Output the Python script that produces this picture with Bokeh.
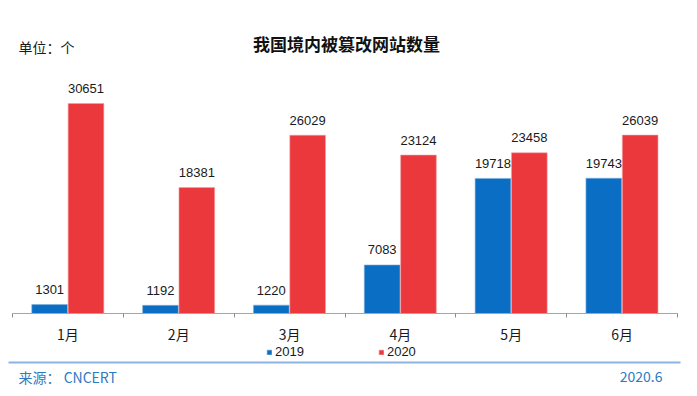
from bokeh.plotting import figure
from bokeh.models import (ColumnDataSource, FixedTicker, Range1d, Label, Legend, LegendItem,
                          BoxAnnotation)
from bokeh.transform import dodge
from bokeh.core.properties import value
from bokeh.embed import file_html
from bokeh.resources import INLINE

months = ["1月", "2月", "3月", "4月", "5月", "6月"]
y2019 = [1301, 1192, 1220, 7083, 19718, 19743]
y2020 = [30651, 18381, 26029, 23124, 23458, 26039]

BLUE = "#0a6fc4"
RED = "#eb383d"
CJK = "Noto Sans CJK SC"
NUM = "Liberation Sans"

pos = [i + 0.5 for i in range(len(months))]
src = ColumnDataSource(dict(x=pos, a=y2019, b=y2020,
                            ta=[str(v) for v in y2019], tb=[str(v) for v in y2020]))

W, H = 681, 386
p = figure(width=W, height=H, output_backend="svg", toolbar_location=None, title=None,
           x_range=Range1d(-0.1083, 6.0361), y_range=Range1d(-10655, 45686),
           y_axis_location=None,
           min_border_left=0, min_border_right=0, min_border_top=0, min_border_bottom=0)
p.outline_line_color = None
p.grid.visible = False

r1 = p.vbar(x=dodge("x", -0.165), top="a", width=0.322, source=src,
            fill_color=BLUE, line_color="#7fb0de", line_width=0.6)
r2 = p.vbar(x=dodge("x", 0.163), top="b", width=0.322, source=src,
            fill_color=RED, line_color="#f3a0a2", line_width=0.6)

p.text(x=dodge("x", -0.165), y="a", text="ta", source=src,
       text_align="center", text_baseline="middle", y_offset=-15,
       text_font=value(NUM), text_font_size="13px", text_color="#1a1a1a")
p.text(x=dodge("x", 0.163), y="b", text="tb", source=src,
       text_align="center", text_baseline="middle", y_offset=-15,
       text_font=value(NUM), text_font_size="13px", text_color="#1a1a1a")

xa = p.xaxis[0]
xa.fixed_location = 0
xa.bounds = (0, len(months))
xa.ticker = FixedTicker(ticks=pos, minor_ticks=list(range(len(months) + 1)))
xa.major_label_overrides = {pos[i]: months[i] for i in range(len(months))}
xa.major_tick_out = 0
xa.major_tick_in = 0
xa.minor_tick_out = 4
xa.minor_tick_in = 0
xa.minor_tick_line_color = "#8c8c8c"
xa.axis_line_color = "#a6a6a6"
xa.major_label_standoff = 6
xa.major_label_text_font = CJK
xa.major_label_text_font_size = "14px"
xa.major_label_text_color = "#1a1a1a"

legend = Legend(items=[LegendItem(label="2019", renderers=[r1]),
                       LegendItem(label="2020", renderers=[r2])],
                orientation="horizontal", location=(266, 27),
                glyph_width=6, glyph_height=6, label_height=14, label_standoff=3,
                spacing=74, padding=0, margin=0, border_line_color=None,
                background_fill_alpha=0,
                label_text_font=NUM, label_text_font_size="13px", label_text_color="#1a1a1a")
p.add_layout(legend)

p.add_layout(Label(x=346, y=H - 43, x_units="screen", y_units="screen", text="我国境内被篡改网站数量",
                   text_font=CJK, text_font_size="17px", text_font_style="bold",
                   text_align="center", text_baseline="middle", text_color="#111111"))
p.add_layout(Label(x=18, y=H - 46, x_units="screen", y_units="screen", text="单位：个",
                   text_font=CJK, text_font_size="14px",
                   text_align="left", text_baseline="middle", text_color="#1a1a1a"))
p.add_layout(BoxAnnotation(left=8, right=680, top=H - 361, bottom=H - 363,
                           left_units="screen", right_units="screen",
                           top_units="screen", bottom_units="screen",
                           fill_color="#8db3e2", fill_alpha=1, line_color=None))
p.add_layout(Label(x=18, y=H - 376, x_units="screen", y_units="screen", text="来源： CNCERT",
                   text_font=CJK, text_font_size="14px",
                   text_align="left", text_baseline="middle", text_color="#2e7bc4"))
p.add_layout(Label(x=662, y=H - 376, x_units="screen", y_units="screen", text="2020.6",
                   text_font=CJK, text_font_size="14px",
                   text_align="right", text_baseline="middle", text_color="#2e7bc4"))

open("out.html", "w").write(file_html(p, INLINE))
